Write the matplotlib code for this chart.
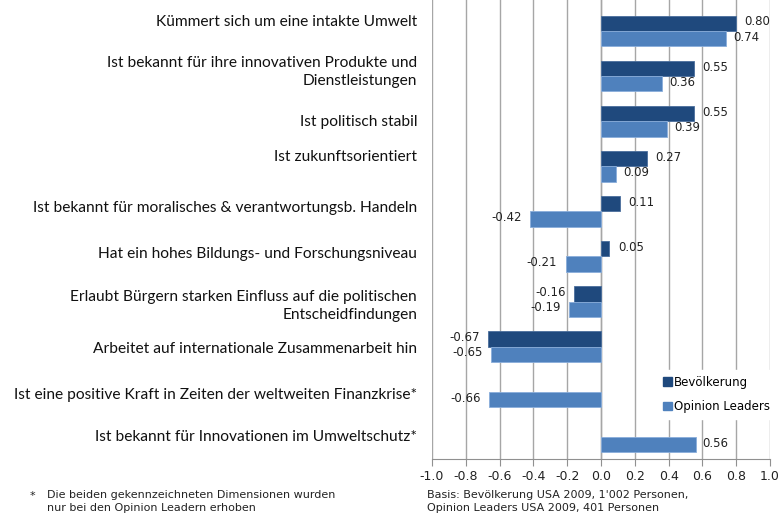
import numpy as np
import matplotlib
matplotlib.use("Agg")
import matplotlib.pyplot as plt
from matplotlib.patches import Patch

# Kategorien (von oben nach unten)
kategorien = [
    "Kümmert sich um eine intakte Umwelt",
    "Ist bekannt für ihre innovativen Produkte und\nDienstleistungen",
    "Ist politisch stabil",
    "Ist zukunftsorientiert",
    "Ist bekannt für moralisches & verantwortungsb. Handeln",
    "Hat ein hohes Bildungs- und Forschungsniveau",
    "Erlaubt Bürgern starken Einfluss auf die politischen\nEntscheidfindungen",
    "Arbeitet auf internationale Zusammenarbeit hin",
    "Ist eine positive Kraft in Zeiten der weltweiten Finanzkrise*",
    "Ist bekannt für Innovationen im Umweltschutz*",
]
bevoelkerung = [0.80, 0.55, 0.55, 0.27, 0.11, 0.05, -0.16, -0.67, None, None]
opinion_leaders = [0.74, 0.36, 0.39, 0.09, -0.42, -0.21, -0.19, -0.65, -0.66, 0.56]
xticks = [-1.0, -0.8, -0.6, -0.4, -0.2, 0.0, 0.2, 0.4, 0.6, 0.8, 1.0]

# y-Position (Pixel von oben) der Beschriftungen links, wie im Original
label_y_px = [22, 72, 122, 157, 208, 254, 306, 349, 395, 437]

dunkel = "#1f497d"
hell = "#4f81bd"

fig = plt.figure(figsize=(7.8, 5.22), dpi=100)
ax = fig.add_axes([432/780, 63/522, 338/780, 459/522])

y = np.arange(len(kategorien))
h = 0.34

for i, v in enumerate(bevoelkerung):
    if v is None:
        continue
    ax.barh(y[i] - h/2, v, height=h, color=dunkel, edgecolor="#4a6e9c", linewidth=0.6, zorder=3)
    ax.annotate("%.2f" % v, (v, y[i] - h/2), xytext=(6 if v >= 0 else -6, 1),
                textcoords="offset points", va="center",
                ha="left" if v >= 0 else "right", fontsize=8.5, color="#222222")

for i, v in enumerate(opinion_leaders):
    ax.barh(y[i] + h/2, v, height=h, color=hell, edgecolor="#8aaedb", linewidth=0.6, zorder=3)
    ax.annotate("%.2f" % v, (v, y[i] + h/2), xytext=(5 if v >= 0 else -6, 1),
                textcoords="offset points", va="center",
                ha="left" if v >= 0 else "right", fontsize=8.5, color="#222222")

ax.set_xlim(-1.0, 1.0)
ax.set_ylim(9.49, -0.687)
ax.set_xticks(xticks)
ax.set_xticklabels(["%.1f" % t for t in xticks], fontsize=9, color="#222222")
ax.set_yticks([])
ax.tick_params(axis="x", length=5, color="#909090", pad=3)

ax.grid(axis="x", color="#a6a6a6", linewidth=1.0, zorder=0)
ax.axvline(0, color="#a6a6a6", linewidth=1.0, zorder=1)
for s in ["top", "right", "left"]:
    ax.spines[s].set_visible(False)
ax.spines["bottom"].set_color("#909090")

# Kategorienbeschriftung links
for txt, py in zip(kategorien, label_y_px):
    fig.text(417/780, 1 - py/522, txt, family="Lato", fontsize=11.2, color="#111111",
             ha="right", va="center", linespacing=1.3)

# Legende ohne Rahmen, mit weissem Hintergrund
leg = fig.legend(handles=[Patch(color=dunkel), Patch(color=hell)],
                 labels=["Bevölkerung", "Opinion Leaders"],
                 loc="upper left", bbox_to_anchor=(651/780, 1 - 364/522),
                 fontsize=8.5, frameon=True, handlelength=0.75, handleheight=0.75,
                 handletextpad=0.2, labelspacing=0.95, borderpad=0.5,
                 fancybox=False)
leg.get_frame().set_edgecolor("white")
leg.get_frame().set_facecolor("white")
leg.get_frame().set_alpha(1)

# Fussnoten
fig.text(30/780, 1 - 496/522, "*", fontsize=8, va="center", color="#222222")
fig.text(47/780, 1 - 490/522, "Die beiden gekennzeichneten Dimensionen wurden\nnur bei den Opinion Leadern erhoben",
         fontsize=8, va="top", ha="left", color="#222222", linespacing=1.35)
fig.text(427/780, 1 - 490/522, "Basis: Bevölkerung USA 2009, 1'002 Personen,\nOpinion Leaders USA 2009, 401 Personen",
         fontsize=8, va="top", ha="left", color="#222222", linespacing=1.35)

fig.savefig("out.png", dpi=100)
